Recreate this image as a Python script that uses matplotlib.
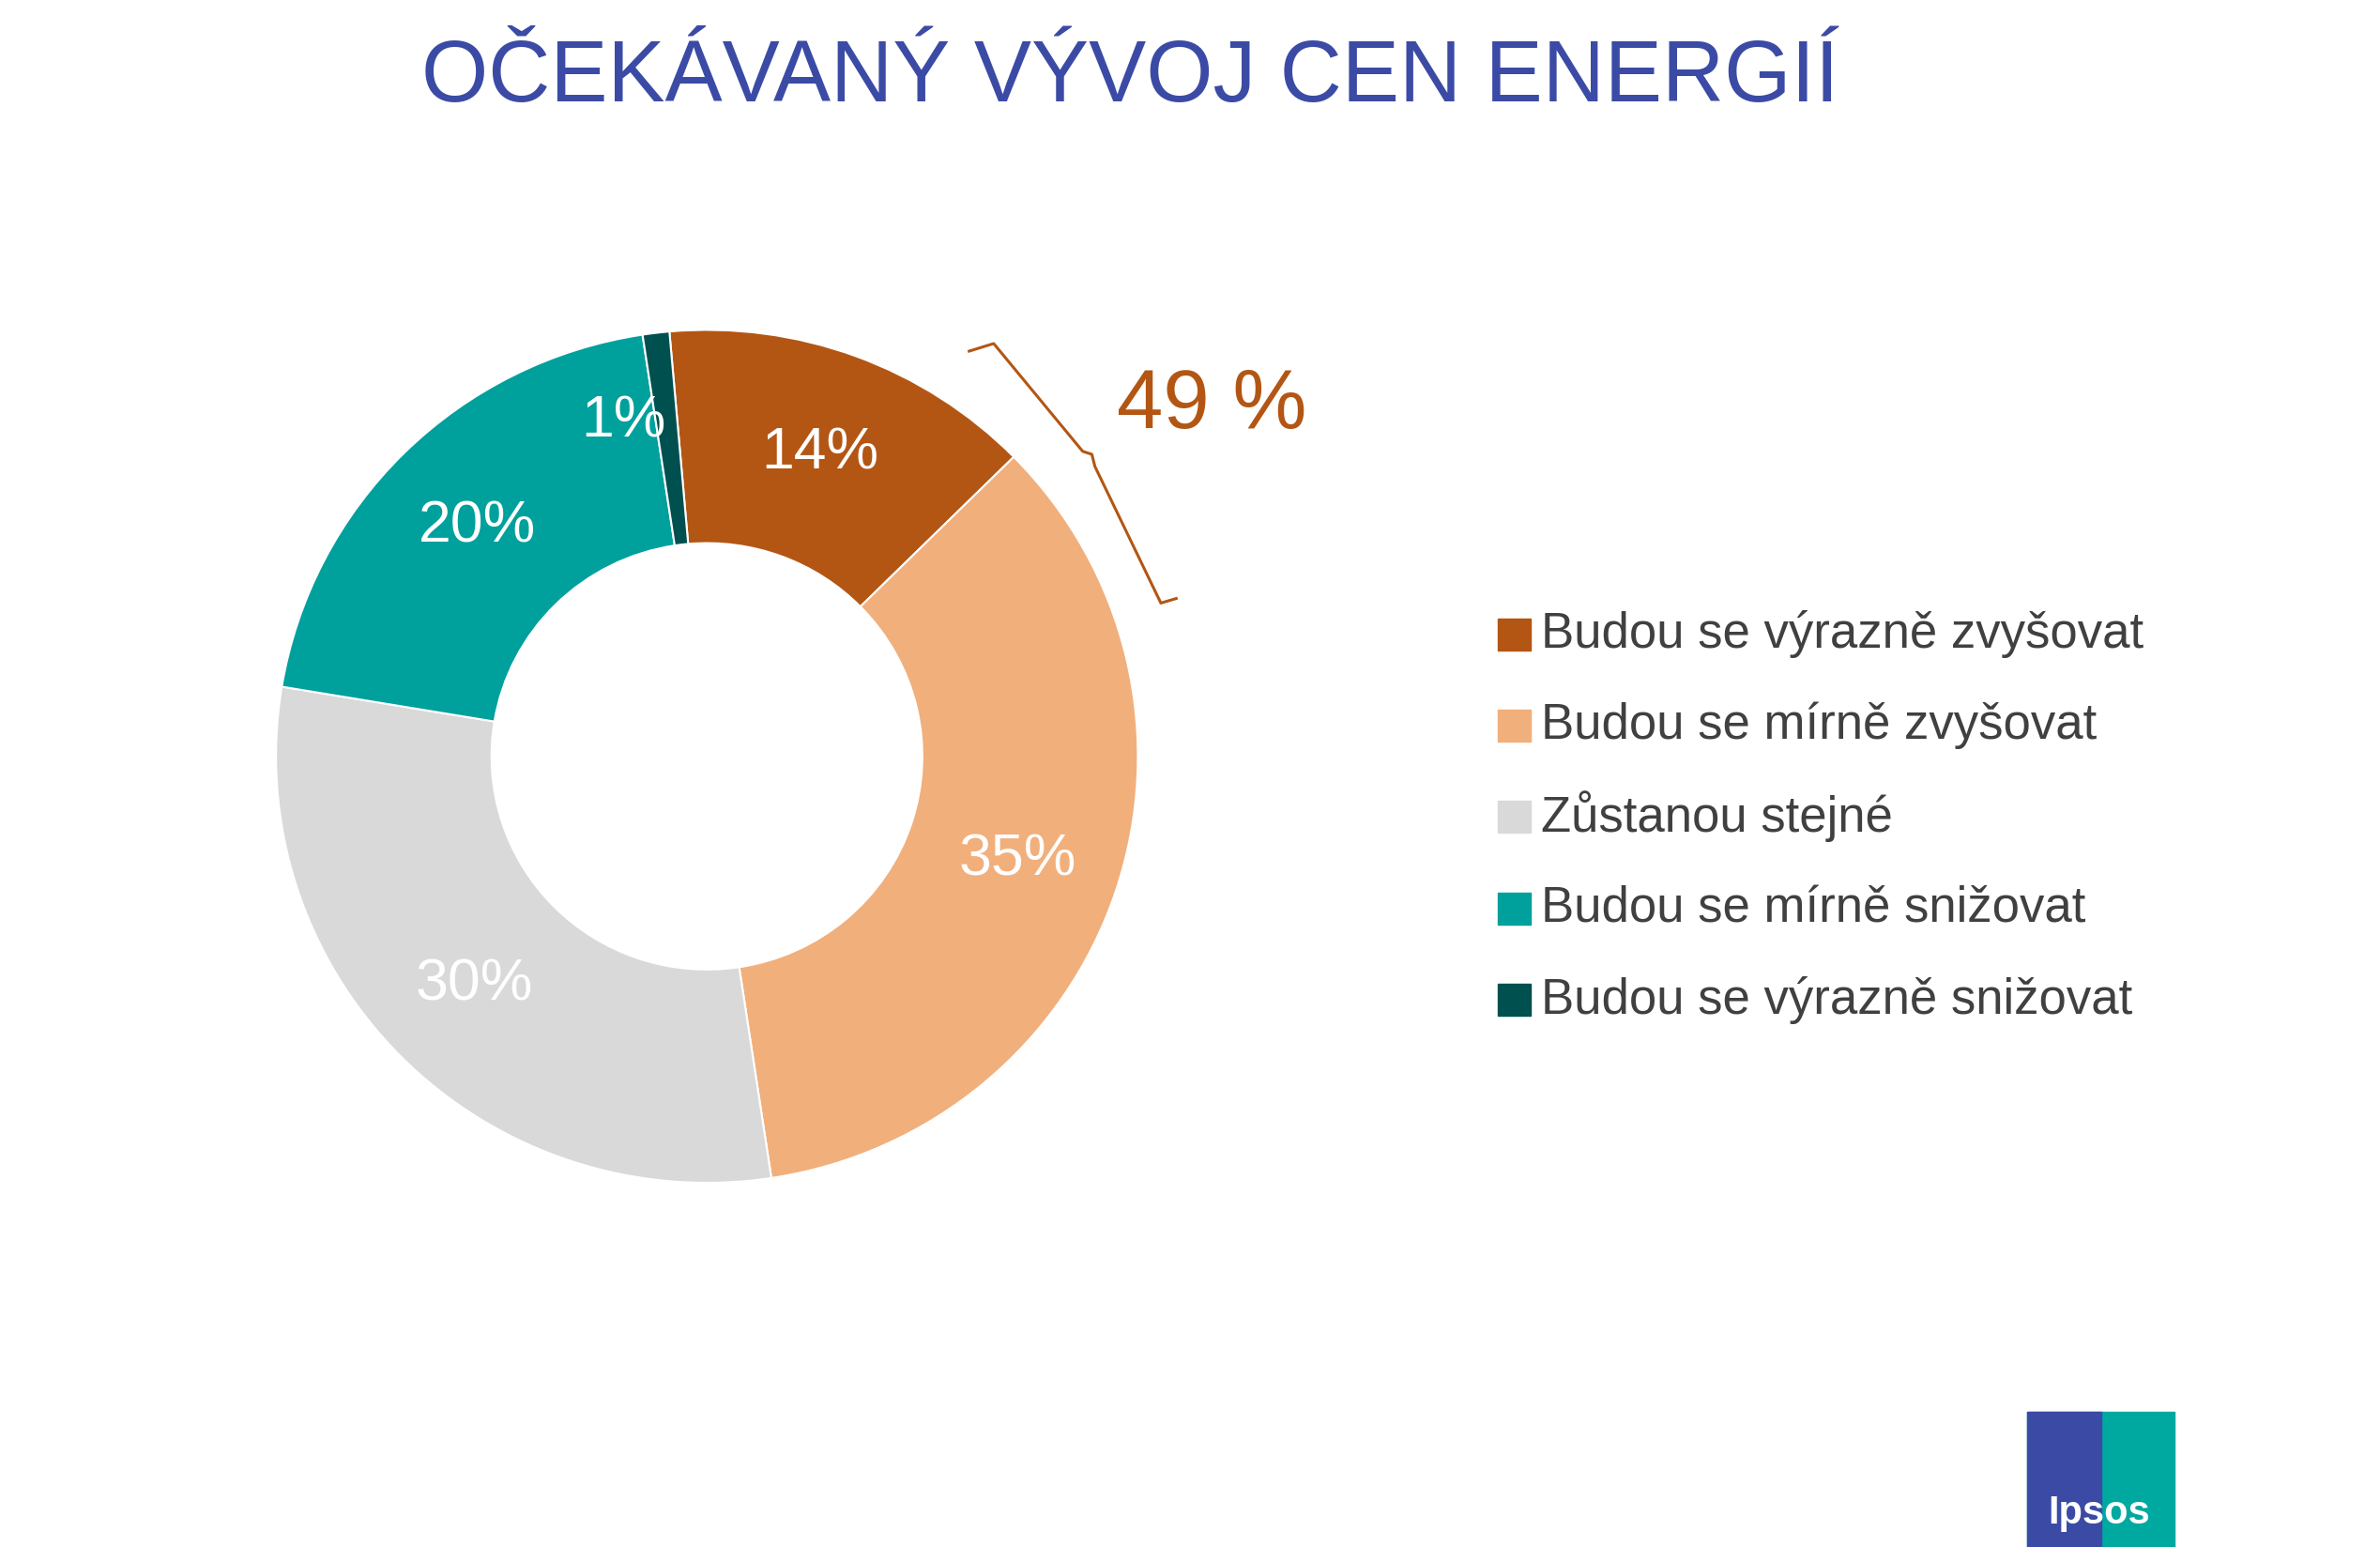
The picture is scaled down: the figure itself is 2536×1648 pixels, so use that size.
import matplotlib
matplotlib.use("Agg")
import matplotlib.pyplot as plt
from matplotlib.patches import Rectangle, Wedge
import numpy as np

categories = ["Budou se výrazně zvyšovat", "Budou se mírně zvyšovat", "Zůstanou stejné",
              "Budou se mírně snižovat", "Budou se výrazně snižovat"]
values = [14, 35, 30, 20, 1]
labels = ["14%", "35%", "30%", "20%", "1%"]
colors = ["#B35614", "#F1AF7C", "#D9D9D9", "#00A09D", "#00504F"]
title = "OČEKÁVANÝ VÝVOJ CEN ENERGIÍ"
bracket_text = "49 %"

FONT = "Liberation Sans"
W, H = 1552, 1020  # reference display coordinate system
fig = plt.figure(figsize=(25.36, 16.49), dpi=100)
bg = fig.add_axes([0, 0, 1, 1]); bg.set_xlim(0, W); bg.set_ylim(H, 0); bg.axis("off")

cx, cy, R = 461, 499, 281
ax = fig.add_axes([(cx - R) / W, 1 - (cy + R) / H, 2 * R / W, 2 * R / H])
start = 95
wedges, _ = ax.pie(values, colors=colors, startangle=start, counterclock=False,
                   wedgeprops=dict(width=0.5, edgecolor="white", linewidth=1.5))
ax.set_xlim(-1, 1); ax.set_ylim(-1, 1); ax.set_aspect("auto")
cum = 0
for v, lab in zip(values, labels):
    mid = start - (cum + v / 2) * 3.6
    cum += v
    r = 0.76
    if v < 3:
        mid += 7; r = 0.81
    ax.text(r * np.cos(np.radians(mid)), r * np.sin(np.radians(mid)), lab,
            color="white", fontsize=45, family=FONT, ha="center", va="center")

bg.text(737, 52, title, color="#3B4BA5", fontsize=66, family=FONT, ha="center", va="center")

# bracket
bc = "#B35614"
bx = [632, 648, 706, 712, 714, 757, 767]
by = [232, 227, 298, 300, 308, 398, 395]
bg.plot(bx, by, color=bc, lw=2.2)
bg.text(790, 268, bracket_text, color=bc, fontsize=64, family=FONT, ha="center", va="center")

# legend
ys = [418, 478, 538, 599, 659]
for c, name, y in zip(colors, categories, ys):
    bg.add_patch(Rectangle((977, y - 10), 21, 21, color=c))
    bg.text(1005, y, name, fontsize=38, family=FONT, color="#404040", va="center", ha="left")

# logo
bg.add_patch(Rectangle((1322, 931), 96, 89, color="#00A9A0"))
bg.add_patch(Rectangle((1322, 931), 48, 89, color="#3B4BA5"))
bg.text(1369, 997, "Ipsos", color="white", fontsize=30, family=FONT, weight="bold",
        ha="center", va="center")

fig.savefig("out.png", dpi=100, facecolor="white")
